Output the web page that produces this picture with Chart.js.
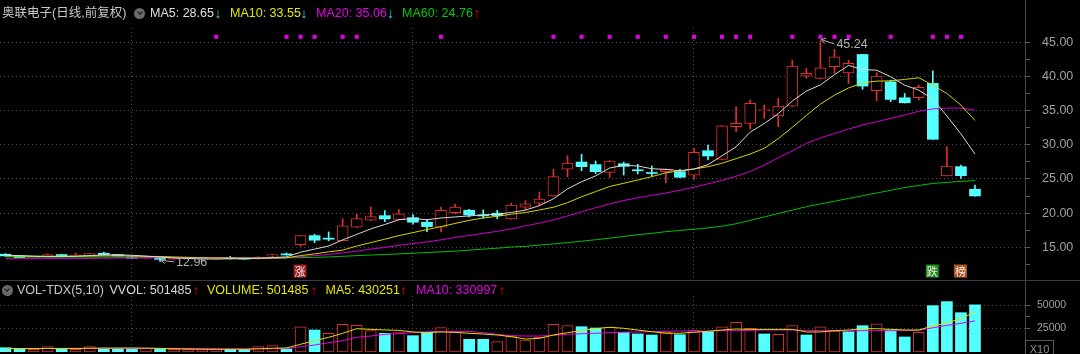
<!DOCTYPE html>
<html>
<head>
<meta charset="utf-8">
<script src="https://cdn.jsdelivr.net/npm/chart.js@4.4.1/dist/chart.umd.min.js"></script>
<style>
html, body { margin: 0; padding: 0; background: #000; }
body { width: 1080px; height: 354px; position: relative; overflow: hidden;
       font-family: "Liberation Sans", Arial, "Noto Sans CJK SC", sans-serif; }
canvas { position: absolute; left: 0; }
#price { top: 0; }
#vol { top: 280px; }
.h { position: absolute; font-size: 12.5px; line-height: 14px; white-space: nowrap; }
.arr { position: absolute; width: 10px; text-align: center; font-size: 14px; line-height: 14px; }
.ic { position: absolute; width: 11px; height: 11px; border-radius: 50%; background: #6a6a6a; }
.ic::after { content: ""; position: absolute; left: 3.5px; top: 2.5px; width: 3px; height: 3px;
             border-right: 1.5px solid #151515; border-bottom: 1.5px solid #151515; transform: rotate(45deg); }
.sep { position: absolute; background: #3c3c3c; }
#x10 { position: absolute; left: 1025px; top: 340px; width: 27px; height: 16px; border: 1px solid #5a5a5a;
       color: #909090; font-size: 11px; line-height: 16px; text-align: center; }
</style>
</head>
<body>
<canvas id="price" width="1080" height="280"></canvas>
<canvas id="vol" width="1080" height="74"></canvas>
<div class="sep" style="left:0;top:280px;width:1080px;height:1px"></div>
<div class="sep" style="left:1025px;top:0;width:1px;height:354px;background:#444"></div>
<div id="x10">X10</div>
<script>
// daily candles, oldest first
const opens = [14.0, 13.75, 13.45, 13.6, 13.95, 13.75, 13.85, 14.15, 13.95, 13.6, 13.4, 13.45, 13.25, 13.3, 13.3, 13.3, 13.55, 13.4, 13.35, 13.7, 14.05,
  15.41, 16.72, 16.35, 16.0, 17.95, 18.97, 19.64, 19.1, 19.35, 18.68, 17.95, 20.07, 20.43, 19.72, 20.0, 19.16,
  20.87, 21.45, 22.52, 26.42, 27.48, 27.1, 25.97, 27.23, 26.35, 25.9, 26.07, 26.07, 25.54,
  29.13, 27.87, 32.64, 33.13, 35.0, 34.2, 35.66, 40.04, 39.7, 41.4, 40.52, 43.2, 37.9, 39.2, 36.87, 36.87, 38.97, 25.44, 26.8, 23.5];
const highs = [14.1, 13.8, 13.6, 14.05, 14.0, 14.15, 14.15, 14.3, 14.0, 13.7, 13.5, 13.5, 13.35, 13.4, 13.4, 13.45, 13.7, 13.45, 13.65, 14.0, 14.2,
  16.72, 16.93, 17.26, 19.2, 19.85, 20.9, 20.37, 20.57, 19.8, 19.1, 20.9, 21.3, 20.57, 20.5, 20.43, 21.45,
  21.83, 23.1, 26.42, 28.4, 28.6, 27.63, 27.7, 27.48, 27.15, 26.9, 26.5, 26.42, 29.48,
  29.96, 32.8, 35.56, 36.53, 35.8, 36.78, 42.37, 41.16, 45.24, 43.93, 42.37, 43.2, 40.52, 39.45, 37.5, 38.72, 40.8, 29.72, 27.04, 24.12];
const lows = [13.7, 13.45, 13.4, 13.55, 13.75, 13.7, 13.8, 13.9, 13.7, 13.38, 13.3, 12.96, 13.2, 13.25, 13.2, 13.25, 13.3, 13.25, 13.3, 13.65, 13.85,
  15.17, 15.7, 15.95, 16.0, 17.9, 18.9, 18.77, 19.0, 18.4, 17.3, 17.26, 19.9, 19.45, 19.26, 19.2, 19.1,
  20.47, 21.1, 22.5, 25.3, 26.2, 25.77, 25.25, 25.58, 25.73, 25.44, 24.46, 25.2, 24.96,
  27.77, 27.8, 31.9, 32.3, 33.86, 32.64, 35.6, 39.7, 39.6, 40.43, 38.97, 38.1, 36.43, 36.3, 36.1, 36.53, 30.8, 25.44, 25.1, 22.5];
const closes = [13.75, 13.5, 13.55, 13.95, 13.8, 13.85, 14.1, 13.95, 13.75, 13.42, 13.45, 13.25, 13.3, 13.32, 13.35, 13.38, 13.36, 13.3, 13.6, 13.95, 13.9,
  16.72, 16.05, 16.2, 18.14, 19.2, 19.5, 19.16, 19.9, 18.68, 18.04, 20.43, 20.9, 19.75, 19.6, 19.65, 21.2,
  21.35, 22.08, 25.34, 27.34, 26.8, 26.07, 27.63, 26.85, 26.2, 25.8, 26.42, 25.25, 28.9,
  28.36, 32.78, 33.13, 36.05, 35.07, 35.66, 41.5, 40.43, 41.26, 42.86, 41.9, 38.58, 40.04, 36.63, 36.14, 38.39, 30.8, 26.9, 25.48, 22.52];

// moving averages
const ma5 = [13.85, 13.8, 13.7, 13.65, 13.65, 13.7, 13.8, 13.9, 13.9, 13.85, 13.72, 13.58, 13.45, 13.38, 13.3, 13.3, 13.33, 13.34, 13.4, 13.5, 13.62,
  14.3, 14.75, 15.2, 16.1, 16.9, 17.7, 18.35, 19.05, 19.2, 19.05, 19.3, 19.45, 19.6, 19.75, 19.85, 20.1,
  20.45, 21.1, 22.1, 23.55, 24.6, 25.45, 26.6, 27.0, 26.9, 26.5, 26.4, 26.2, 26.45,
  27.1, 28.4, 29.7, 31.85, 33.1, 34.55, 36.4, 37.85, 38.75, 40.25, 41.6, 41.0, 40.9, 39.95, 38.7, 37.98, 36.7, 34.2, 31.6, 28.65];
const ma10 = [13.75, 13.75, 13.72, 13.7, 13.7, 13.72, 13.74, 13.76, 13.78, 13.74, 13.7, 13.66, 13.6, 13.55, 13.5, 13.47, 13.45, 13.43, 13.42, 13.44, 13.47,
  13.8, 14.05, 14.35, 14.6, 15.2, 15.7, 16.2, 16.72, 17.16, 17.6, 18.04, 18.5, 18.95, 19.3, 19.55, 19.85,
  20.1, 20.47, 20.87, 21.54, 22.4, 23.15, 23.9, 24.37, 24.85, 25.34, 25.9, 26.2, 26.46,
  26.8, 27.3, 27.97, 28.65, 29.48, 30.9, 32.55, 34.3, 35.95, 37.26, 38.3, 39.06, 39.3, 39.35, 39.55, 39.8, 38.72, 37.5, 35.8, 33.55];
const ma20 = [13.35, 13.35, 13.35, 13.36, 13.37, 13.38, 13.4, 13.42, 13.44, 13.46, 13.47, 13.48, 13.48, 13.48, 13.48, 13.47, 13.47, 13.47, 13.47, 13.48, 13.5,
  13.65, 13.8, 13.95, 14.2, 14.45, 14.75, 15.0, 15.3, 15.55, 15.8, 16.1, 16.45, 16.75, 17.05, 17.35, 17.7,
  18.15, 18.55, 19.0, 19.6, 20.2, 20.8, 21.35, 21.85, 22.25, 22.6, 22.95, 23.35, 23.8,
  24.3, 24.8, 25.4, 26.1, 27.0, 28.1, 29.1, 30.2, 31.0, 31.65, 32.3, 32.9, 33.37, 33.86, 34.34, 34.9, 35.25, 35.36, 35.36, 35.06];
const ma60 = [13.62, 13.62, 13.61, 13.6, 13.6, 13.59, 13.58, 13.58, 13.57, 13.56, 13.55, 13.54, 13.53, 13.52, 13.51, 13.5, 13.49, 13.48, 13.47, 13.47, 13.48,
  13.5, 13.55, 13.6, 13.7, 13.8, 13.88, 13.96, 14.05, 14.15, 14.25, 14.35, 14.45, 14.6, 14.75, 14.88, 15.05,
  15.15, 15.35, 15.5, 15.7, 15.9, 16.12, 16.35, 16.6, 16.85, 17.05, 17.3, 17.48, 17.65,
  17.85, 18.1, 18.45, 18.95, 19.45, 19.95, 20.45, 20.95, 21.35, 21.75, 22.15, 22.55, 22.95, 23.35, 23.75, 24.05, 24.35, 24.5, 24.65, 24.76];

// volume in hands, axis shows it divided by 10
const volumes = [45700, 28700, 28700, 56700, 28700, 28700, 56700, 39000, 39000, 39000, 39000, 28700, 28700, 28700, 28700, 28700, 28700, 28700, 56700, 67000, 32000,
  269000, 234000, 199000, 294000, 284000, 227000, 199000, 206000, 174000, 202000, 259000, 209000, 135000, 135000, 110000, 165000,
  128000, 156000, 295000, 280000, 269000, 255000, 263000, 210000, 192000, 181000, 213000, 184000, 234000, 216000, 269000, 316000, 252000,
  192000, 188000, 280000, 181000, 269000, 223000, 216000, 280000, 301000, 234000, 160000, 210000, 493000, 536000, 418000, 501485];
const volMa5 = [38000, 37000, 36000, 38000, 38000, 38000, 40000, 42000, 42000, 43000, 41000, 38000, 35000, 32000, 30000, 29000, 29000, 29000, 34000, 40000, 43000,
  82000, 120000, 156000, 199000, 248000, 241000, 234000, 230000, 213000, 206000, 213000, 210000, 199000, 191500, 181000, 163000,
  138000, 145000, 181000, 206000, 227000, 248000, 263000, 252000, 234000, 216000, 199000, 199000, 210000, 220000, 234000, 245000, 241000,
  241000, 241000, 241000, 213000, 213000, 227000, 234000, 248000, 248000, 241000, 234000, 234000, 277000, 312000, 351000, 430251];
const volMa10 = [37000, 37000, 37000, 37000, 37000, 37000, 38000, 38000, 38000, 38000, 39000, 39000, 38000, 37000, 36000, 35000, 34000, 33000, 34000, 35000, 36000,
  57000, 74000, 99000, 120000, 156000, 170000, 188000, 195000, 206000, 216000, 220000, 220000, 220000, 205000, 188000, 174000,
  170000, 170000, 177000, 188000, 195000, 199000, 206000, 210000, 213000, 216000, 220000, 223000, 223000, 223000, 227000, 227000, 230000,
  234000, 234000, 234000, 230000, 227000, 227000, 223000, 227000, 227000, 227000, 227000, 230000, 258000, 283000, 305000, 330997];

const signalDays = [15, 20, 21, 22, 24, 25, 31, 39, 41, 43, 45, 47, 49, 51, 52, 53, 56, 58, 59, 60, 63, 66, 67, 68];
const monthSplits = [9, 29, 49];
const markerDays = [21, 66, 68];
const markerTexts = ['涨', '跌', '榜'];
const priceTicks = [15, 20, 25, 30, 35, 40, 45];
const volTicks = [250000, 500000];
const VOL_UNIT = 10;

const CYAN = '#54ffff', RED = '#e03030', GRID = '#4a4a4a', LABEL = '#a0a0a0', NOTE = '#b0b0b0';
const FONT = '"Liberation Sans", Arial, sans-serif';
const SIGNAL_Y = 45.78;
const markerColors = ['#9a2020', '#1f8f1f', '#a8521e'];

const up = closes.map((c, i) => c >= opens[i]);
const volUp = closes.map((c, i) => i === 0 ? up[0] : c >= closes[i - 1]);
const pts = arr => arr.map((v, i) => ({x: i, y: v}));

const priceMarks = priceTicks.concat(priceTicks.map(v => v - 2.5)).sort((a, b) => a - b);
const volMarks = [volTicks[0], (volTicks[0] + volTicks[1]) / 2, volTicks[1]];

function xScale() {
  return {
    type: 'linear', min: -0.39, max: 72.56, position: 'bottom', offset: false,
    afterFit(s) { s.height = 0; s.paddingLeft = 0; s.paddingRight = 0; },
    afterBuildTicks(s) { s.ticks = monthSplits.map(v => ({value: v})); },
    ticks: {display: false},
    grid: {color: GRID, drawTicks: false, offset: false},
    border: {display: false, dash: [1, 3]}
  };
}

function yScale(min, max, marks, labelled, size, pad, fmt) {
  return {
    position: 'right', min: min, max: max,
    afterFit(s) { s.width = 55; s.paddingTop = 0; s.paddingBottom = 0; },
    afterBuildTicks(s) { s.ticks = marks.map(v => ({value: v})); },
    grid: {
      color: c => (c.tick && labelled.includes(c.tick.value)) ? GRID : 'rgba(0,0,0,0)',
      tickColor: '#5a5a5a', tickLength: 5, tickBorderDash: []
    },
    border: {display: false, dash: [1, 3]},
    ticks: {color: LABEL, font: {family: FONT, size: size}, padding: pad, autoSkip: false,
            callback: v => labelled.includes(v) ? fmt(v) : ''}
  };
}

function line(data, color) {
  return {type: 'line', data: pts(data), borderColor: color, borderWidth: 1, pointRadius: 0, tension: 0, order: 0};
}

const notesPlugin = {
  id: 'notes',
  afterDatasetsDraw(chart) {
    const {ctx, chartArea, scales: {x, y}} = chart;
    ctx.save();
    ctx.font = '12.5px ' + FONT;
    ctx.textBaseline = 'middle';
    ctx.textAlign = 'left';
    const hi = highs.indexOf(Math.max(...highs));
    const lo = lows.indexOf(Math.min(...lows));
    [[hi, highs[hi], 4.5], [lo, lows[lo], 1.5]].forEach(([i, v, dy]) => {
      const px = x.getPixelForValue(i), py = y.getPixelForValue(v);
      const x0 = px + 1, y0 = py - 1, x1 = px + 14, y1 = py - 1 + dy;
      const a = Math.atan2(y1 - y0, x1 - x0);
      ctx.strokeStyle = NOTE;
      ctx.lineWidth = 1;
      ctx.beginPath();
      ctx.moveTo(x0, y0); ctx.lineTo(x1, y1);
      ctx.moveTo(x0 + 5 * Math.cos(a + 0.6), y0 + 5 * Math.sin(a + 0.6));
      ctx.lineTo(x0, y0);
      ctx.lineTo(x0 + 5 * Math.cos(a - 0.6), y0 + 5 * Math.sin(a - 0.6));
      ctx.stroke();
      ctx.fillStyle = NOTE;
      ctx.fillText(v.toFixed(2), px + 16, y1 + 0.5);
    });
    ctx.font = '11px "Noto Sans CJK SC", sans-serif';
    ctx.textAlign = 'center';
    markerDays.forEach((d, k) => {
      const cx = x.getPixelForValue(d) - 0.5, cy = chartArea.bottom - 8;
      ctx.fillStyle = markerColors[k];
      ctx.fillRect(cx - 6.5, cy - 6.5, 13, 13);
      ctx.fillStyle = '#f2e6e6';
      ctx.fillText(markerTexts[k], cx, cy + 0.5);
    });
    ctx.restore();
  }
};

Chart.defaults.animation = false;
Chart.defaults.font.family = FONT;

new Chart(document.getElementById('price'), {
  type: 'bar',
  data: {
    datasets: [
      line(ma5, '#d8d8d8'),
      line(ma10, '#d4d400'),
      line(ma20, '#d000d0'),
      line(ma60, '#00c000'),
      {type: 'scatter', data: signalDays.map(d => ({x: d, y: SIGNAL_Y})), pointStyle: 'rect',
       pointRadius: 2.9, borderWidth: 0, backgroundColor: '#e000e0', order: 0},
      {type: 'bar', data: opens.map((o, i) => ({x: i, y: [o, closes[i]]})),
       backgroundColor: c => up[c.dataIndex] ? '#000' : CYAN,
       borderColor: c => up[c.dataIndex] ? RED : CYAN,
       borderWidth: c => up[c.dataIndex] ? 1 : 0,
       borderSkipped: false, barThickness: 11, minBarLength: 1, grouped: false, order: 1},
      {type: 'bar', data: lows.map((l, i) => ({x: i, y: [l, highs[i]]})),
       backgroundColor: c => up[c.dataIndex] ? RED : CYAN,
       borderWidth: 0, barThickness: 1, grouped: false, order: 2}
    ]
  },
  options: {
    responsive: false,
    devicePixelRatio: 1,
    layout: {autoPadding: false, padding: {top: 28, bottom: 1, left: 0, right: 0}},
    plugins: {legend: {display: false}, tooltip: {enabled: false}},
    scales: {
      x: xScale(),
      y: yScale(10.38, 47.07, priceMarks, priceTicks, 12.5, 12, v => v.toFixed(2))
    }
  },
  plugins: [notesPlugin]
});

new Chart(document.getElementById('vol'), {
  type: 'bar',
  data: {
    datasets: [
      line(volMa5, '#e0e000'),
      line(volMa10, '#e000e0'),
      {type: 'bar', data: pts(volumes),
       backgroundColor: c => volUp[c.dataIndex] ? '#000' : CYAN,
       borderColor: c => volUp[c.dataIndex] ? RED : CYAN,
       borderWidth: c => volUp[c.dataIndex] ? 1 : 0,
       borderSkipped: false, barThickness: 11, grouped: false, order: 1}
    ]
  },
  options: {
    responsive: false,
    devicePixelRatio: 1,
    layout: {autoPadding: false, padding: {top: 16, bottom: 2, left: 0, right: 0}},
    plugins: {legend: {display: false}, tooltip: {enabled: false}},
    scales: {
      x: xScale(),
      y: yScale(0, 595745, volMarks, volTicks, 10.5, 7, v => String(v / VOL_UNIT))
    }
  }
});

// header rows
function text(left, top, str, color, cls) {
  const s = document.createElement('span');
  s.className = cls || 'h';
  s.style.left = left + 'px';
  s.style.top = top + 'px';
  s.style.color = color;
  s.textContent = str;
  document.body.appendChild(s);
}
function icon(left, top) {
  const s = document.createElement('span');
  s.className = 'ic';
  s.style.left = left + 'px';
  s.style.top = top + 'px';
  document.body.appendChild(s);
}
function trend(arr, center, top) {
  const rising = arr[arr.length - 1] >= arr[arr.length - 2];
  text(center - 5, top, rising ? '↑' : '↓', rising ? '#e00000' : '#30d8f0', 'arr');
}
const last = arr => arr[arr.length - 1];

text(2, 6, '奥联电子(日线,前复权)', '#c8c8c8');
icon(134, 7.5);
text(150, 6, 'MA5: ' + last(ma5).toFixed(2), '#e0e0e0'); trend(ma5, 218, 6);
text(230, 6, 'MA10: ' + last(ma10).toFixed(2), '#e6e600'); trend(ma10, 304, 6);
text(316, 6, 'MA20: ' + last(ma20).toFixed(2), '#e600e6'); trend(ma20, 390.5, 6);
text(402, 6, 'MA60: ' + last(ma60).toFixed(2), '#00cc00'); trend(ma60, 477, 6);

icon(1.5, 284.5);
text(17, 283, 'VOL-TDX(5,10)', '#c8c8c8');
text(109.5, 283, 'VVOL: ' + last(volumes), '#d8d8d8'); trend(volumes, 196, 283);
text(207, 283, 'VOLUME: ' + last(volumes), '#e6e600'); trend(volumes, 314, 283);
text(325.5, 283, 'MA5: ' + last(volMa5), '#e6e600'); trend(volMa5, 403.5, 283);
text(416, 283, 'MA10: ' + last(volMa10), '#e600e6'); trend(volMa10, 502, 283);
</script>
</body>
</html>
